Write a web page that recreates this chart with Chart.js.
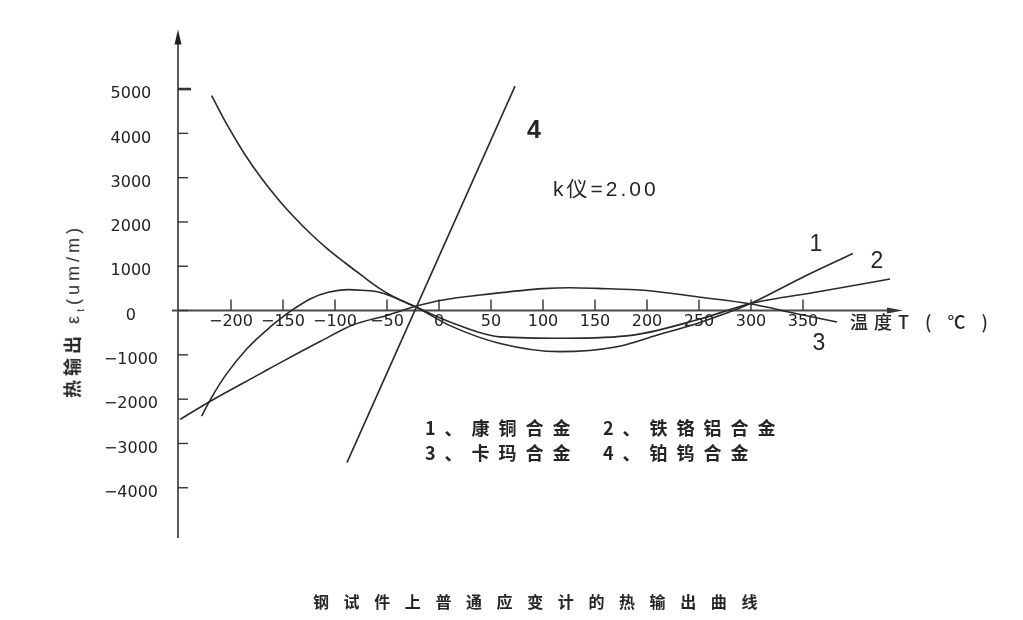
<!DOCTYPE html>
<html>
<head>
<meta charset="utf-8">
<script src="https://cdn.jsdelivr.net/npm/chart.js@4.4.1/dist/chart.umd.min.js"></script>
<style>
html,body{margin:0;padding:0;background:#fff;}
#wrap{position:relative;width:1023px;height:620px;overflow:hidden;background:#fff;}
#c{position:absolute;left:0;top:0;}
.t{position:absolute;white-space:nowrap;color:#262626;line-height:1;}
.cjk{font-family:"Noto Sans CJK SC","DejaVu Sans",sans-serif;font-weight:700;}
.lat{font-family:"Liberation Sans","DejaVu Sans",sans-serif;}
</style>
</head>
<body>
<div id="wrap">
<canvas id="c" width="1023" height="620"></canvas>

<div class="t lat" style="left:534px;top:129px;font-size:25px;font-weight:700;transform:translate(-50%,-50%);">4</div>
<div class="t lat" style="left:816px;top:243px;font-size:23px;transform:translate(-50%,-50%);">1</div>
<div class="t lat" style="left:877px;top:260px;font-size:23px;transform:translate(-50%,-50%);">2</div>
<div class="t lat" style="left:819px;top:342px;font-size:23px;transform:translate(-50%,-50%);">3</div>

<div class="t lat" style="left:553px;top:188px;font-size:21px;letter-spacing:3px;transform:translate(0,-50%);">k<span class="cjk" style="font-weight:400;">仪</span>=2.00</div>

<div class="t cjk" style="left:850px;top:321px;font-size:18px;font-weight:500;letter-spacing:6px;transform:translate(0,-50%);">温度T ( ℃ )</div>

<div class="t cjk" style="left:425px;top:427px;font-size:18px;letter-spacing:9px;transform:translate(0,-50%);">1、康铜合金</div>
<div class="t cjk" style="left:603px;top:427px;font-size:18px;letter-spacing:9px;transform:translate(0,-50%);">2、铁铬铝合金</div>
<div class="t cjk" style="left:425px;top:452px;font-size:18px;letter-spacing:9px;transform:translate(0,-50%);">3、卡玛合金</div>
<div class="t cjk" style="left:603px;top:452px;font-size:18px;letter-spacing:9px;transform:translate(0,-50%);">4、铂钨合金</div>

<div class="t cjk" style="left:74px;top:311px;font-size:18px;letter-spacing:4px;transform:translate(-50%,-50%) rotate(-90deg);">热输出 <span class="lat" style="font-weight:400;">ε<sub style="font-size:10px;">t</sub>(um/m)</span></div>

<div class="t cjk" style="left:313px;top:601px;font-size:16px;letter-spacing:14.6px;transform:translate(0,-50%);">钢试件上普通应变计的热输出曲线</div>
</div>

<script>
// ---- data ----
// temperature T (°C) and thermal output ε (µm/m)
const curve1T = [-218.6, -202.6, -186.5, -170.5, -154.5, -138.5, -122.4, -106.4, -90.4, -74.3, -58.4, -42.3, -23.1, 10.6, 58.7, 116.3, 171, 209.3, 251, 299, 347, 398];
const curve1E = [4849, 4145, 3517, 2981, 2509, 2088, 1711, 1375, 1079, 792, 519, 294, 90, -340, -743, -928, -817, -559, -268, 152, 720, 1288];

const curve2T = [-228.2, -218.6, -204.1, -184.9, -162.5, -148, -138.5, -122.4, -106.4, -88, -74.3, -58.4, -42.3, -23.1, 10.6, 58.7, 120, 186.5, 251, 299, 366, 433.7];
const curve2E = [-2382, -1960, -1424, -867, -374, -104, 55, 280, 414, 472, 458, 420, 290, 90, -257, -593, -625, -555, -190, 152, 430, 711];

const curve3T = [-249, -218.6, -172.1, -152.9, -114.4, -82.4, -50.3, -23.1, 1, 49, 100.3, 126, 151.6, 199.7, 251, 299, 344, 382.7];
const curve3E = [-2456, -2030, -1430, -1180, -700, -320, -110, 90, 228, 376, 495, 515, 500, 452, 302, 152, -72, -257];

const curve4T = [-88.5, 73.1];
const curve4E = [-3433, 5067];

const xTickValues = [-200, -150, -100, -50, 0, 50, 100, 150, 200, 250, 300, 350];
const xTickLabels = ['\u2212200', '\u2212150', '\u2212100', '\u221250', '0', '50', '100', '150', '200', '250', '300', '350'];
const yTickValues = [-4000, -3000, -2000, -1000, 0, 1000, 2000, 3000, 4000, 5000];
const yTickLabels = ['\u22124000', '\u22123000', '\u22122000', '\u22121000', '0', '1000', '2000', '3000', '4000', '5000'];

const xMin = -250.96, xMax = 446.15;
const yMin = -5134, yMax = 6342;

function pts(T, E) { return T.map((t, i) => ({ x: t, y: E[i] })); }

const lineColor = '#2a2a2a';
function ds(T, E, smooth) {
  return {
    data: pts(T, E),
    borderColor: lineColor,
    borderWidth: 1.6,
    pointRadius: 0,
    pointHoverRadius: 0,
    fill: false,
    tension: smooth ? 0.4 : 0,
    cubicInterpolationMode: smooth ? 'monotone' : 'default'
  };
}

const axesPlugin = {
  id: 'axesDraw',
  beforeDatasetsDraw(chart) {
    const { ctx, chartArea: a, scales: { x, y } } = chart;
    const y0 = y.getPixelForValue(0);
    const xL = x.getPixelForValue(xMin);
    ctx.save();
    ctx.strokeStyle = '#333';
    ctx.lineWidth = 1.6;
    ctx.beginPath();
    ctx.moveTo(xL, a.bottom);
    ctx.lineTo(xL, a.top + 6);
    ctx.stroke();
    ctx.fillStyle = '#222';
    ctx.beginPath();
    ctx.moveTo(xL, a.top);
    ctx.lineTo(xL - 3.5, a.top + 15);
    ctx.lineTo(xL + 3.5, a.top + 15);
    ctx.closePath();
    ctx.fill();
    ctx.strokeStyle = '#4a4a4a';
    ctx.lineWidth = 2;
    ctx.beginPath();
    ctx.moveTo(xL - 6, y0);
    ctx.lineTo(a.right - 8, y0);
    ctx.stroke();
    ctx.fillStyle = '#333';
    ctx.beginPath();
    ctx.moveTo(a.right, y0);
    ctx.lineTo(a.right - 16, y0 - 3);
    ctx.lineTo(a.right - 16, y0 + 3);
    ctx.closePath();
    ctx.fill();
    ctx.strokeStyle = '#333';
    y.ticks.forEach(t => {
      const p = y.getPixelForValue(t.value);
      ctx.lineWidth = t.value === 5000 ? 2.6 : 1.4;
      ctx.beginPath();
      ctx.moveTo(xL, p);
      ctx.lineTo(xL + (t.value === 5000 ? 13 : 10), p);
      ctx.stroke();
    });
    ctx.lineWidth = 1.4;
    x.ticks.forEach(t => {
      const p = x.getPixelForValue(t.value);
      ctx.beginPath();
      ctx.moveTo(p, y0);
      ctx.lineTo(p, y0 - 11);
      ctx.stroke();
    });
    ctx.restore();
  }
};

new Chart(document.getElementById('c'), {
  type: 'line',
  data: {
    datasets: [
      ds(curve1T, curve1E, true),
      ds(curve2T, curve2E, true),
      ds(curve3T, curve3E, true),
      ds(curve4T, curve4E, false)
    ]
  },
  options: {
    responsive: false,
    animation: false,
    devicePixelRatio: 1,
    events: [],
    layout: { padding: { left: 0, top: 25, right: 120, bottom: 82 } },
    plugins: { legend: { display: false }, tooltip: { enabled: false }, title: { display: false } },
    scales: {
      x: {
        type: 'linear',
        position: { y: 0 },
        min: xMin,
        max: xMax,
        grid: { display: false, drawTicks: false },
        border: { display: false },
        afterBuildTicks: s => { s.ticks = xTickValues.map(v => ({ value: v })); },
        afterFit: s => { s.height = 0; },
        ticks: {
          autoSkip: false,
          maxRotation: 0,
          padding: 2,
          color: '#222',
          font: { family: 'DejaVu Sans', size: 16 },
          callback: v => { const i = xTickValues.indexOf(v); return i >= 0 ? xTickLabels[i] : ''; }
        }
      },
      y: {
        type: 'linear',
        position: 'left',
        min: yMin,
        max: yMax,
        grid: { display: false, drawTicks: false },
        border: { display: false },
        afterBuildTicks: s => { s.ticks = yTickValues.map(v => ({ value: v })); },
        afterFit: s => { s.width = 178; },
        ticks: {
          autoSkip: false,
          padding: 20,
          crossAlign: 'center',
          labelOffset: 5,
          color: '#222',
          font: { family: 'DejaVu Sans', size: 16 },
          callback: v => { const i = yTickValues.indexOf(v); return i >= 0 ? yTickLabels[i] : ''; }
        }
      }
    }
  },
  plugins: [axesPlugin]
});
</script>
</body>
</html>
